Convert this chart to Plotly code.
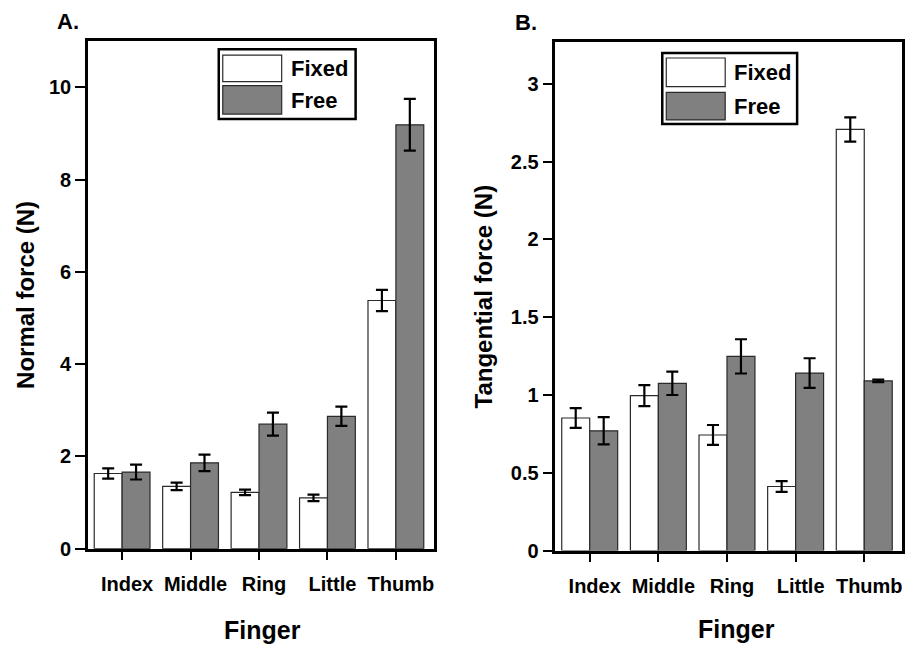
import plotly.graph_objects as go

fingers = ["Index", "Middle", "Ring", "Little", "Thumb"]

normal_fixed = [1.63, 1.35, 1.22, 1.10, 5.38]
normal_fixed_err = [0.11, 0.08, 0.06, 0.07, 0.23]
normal_free = [1.66, 1.86, 2.70, 2.87, 9.19]
normal_free_err = [0.16, 0.18, 0.25, 0.21, 0.56]

tang_fixed = [0.852, 0.996, 0.743, 0.412, 2.706]
tang_fixed_err = [0.063, 0.067, 0.064, 0.034, 0.078]
tang_free = [0.770, 1.075, 1.248, 1.141, 1.090]
tang_free_err = [0.088, 0.075, 0.110, 0.095, 0.008]

normal_ticks = [0, 2, 4, 6, 8, 10]
tang_ticks = [0, 0.5, 1, 1.5, 2, 2.5, 3]
tang_ticktext = ["0", "0.5", "1", "1.5", "2", "2.5", "3"]

W, H = 911, 657
FONT = "Liberation Sans, Arial, sans-serif"
FREE_COLOR = "#808080"
EDGE = "#2a2a2a"

def px(x):
    return x / W

def py(y):
    return 1 - y / H

fig = go.Figure()

def add_pair(fixed, fixed_err, free, free_err, xa, ya):
    fig.add_trace(go.Bar(
        x=fingers, y=fixed, name="Fixed", xaxis=xa, yaxis=ya,
        marker=dict(color="white", line=dict(color=EDGE, width=1.2)),
        error_y=dict(type="data", array=fixed_err, color="black", thickness=2.2, width=6),
        showlegend=False,
    ))
    fig.add_trace(go.Bar(
        x=fingers, y=free, name="Free", xaxis=xa, yaxis=ya,
        marker=dict(color=FREE_COLOR, line=dict(color=EDGE, width=1.2)),
        error_y=dict(type="data", array=free_err, color="black", thickness=2.2, width=6),
        showlegend=False,
    ))

add_pair(normal_fixed, normal_fixed_err, normal_free, normal_free_err, "x", "y")
add_pair(tang_fixed, tang_fixed_err, tang_free, tang_free_err, "x2", "y2")

axis_common = dict(
    showline=True, linewidth=2.5, linecolor="black", mirror=True,
    ticks="outside", tickwidth=2, tickcolor="black",
    showgrid=False, zeroline=False,
    tickfont=dict(family=FONT, size=20, color="black", weight="bold"),
)

fig.update_layout(
    width=W, height=H,
    margin=dict(l=0, r=0, t=0, b=0),
    paper_bgcolor="white", plot_bgcolor="white",
    barmode="group", bargap=0.185, bargroupgap=0,
    showlegend=False,
    xaxis=dict(domain=[px(88), px(434)], anchor="y", range=[-0.5, 4.55],
               ticklen=9, ticklabelstandoff=7, ticklabelshift=5, **axis_common),
    yaxis=dict(domain=[py(558), py(42)], anchor="x", range=[0, 11.0],
               tickvals=normal_ticks, ticklen=10, **axis_common),
    xaxis2=dict(domain=[px(556), px(903)], anchor="y2", range=[-0.5, 4.55],
                ticklen=9, ticklabelstandoff=7, ticklabelshift=5, **axis_common),
    yaxis2=dict(domain=[py(560), py(43)], anchor="x2", range=[0, 3.266],
                tickvals=tang_ticks, ticktext=tang_ticktext, ticklen=10, **axis_common),
)

def text(x, y, s, size, xanchor="center", angle=0):
    fig.add_annotation(
        x=px(x), y=py(y), xref="paper", yref="paper", text=s, showarrow=False,
        xanchor=xanchor, yanchor="middle", textangle=angle,
        font=dict(family=FONT, size=size, color="black", weight="bold"),
    )

# panel labels
text(55, 22, "A.", 22, xanchor="left")
text(514, 23, "B.", 22, xanchor="left")
# axis titles
text(26, 300, "Normal force (N)", 24, angle=-90)
text(484, 301, "Tangential force (N)", 24, angle=-90)
text(263, 641, "Finger", 25)
text(737, 640, "Finger", 25)

# manual legends
def legend(box, sw_fixed, sw_free, tx, ty_fixed, ty_free):
    x0, y0, x1, y1 = box
    fig.add_shape(type="rect", xref="paper", yref="paper",
                  x0=px(x0), x1=px(x1), y0=py(y1), y1=py(y0),
                  line=dict(color="black", width=2.5), fillcolor="white")
    for (a, b, c, d), col in ((sw_fixed, "white"), (sw_free, FREE_COLOR)):
        fig.add_shape(type="rect", xref="paper", yref="paper",
                      x0=px(a), x1=px(c), y0=py(d), y1=py(b),
                      line=dict(color=EDGE, width=1.2), fillcolor=col)
    text(tx, ty_fixed, "Fixed", 22, xanchor="left")
    text(tx, ty_free, "Free", 22, xanchor="left")

legend((219, 50, 356, 121), (223, 56, 282, 83), (223, 87, 282, 116), 289, 70, 102)
legend((663, 54, 798, 126), (667, 59, 726, 88), (667, 94, 726, 122), 733, 74, 108)

fig.write_html("out.html", config={"displayModeBar": False},
               post_script="document.body.style.margin='0';document.body.style.overflow='hidden';")
